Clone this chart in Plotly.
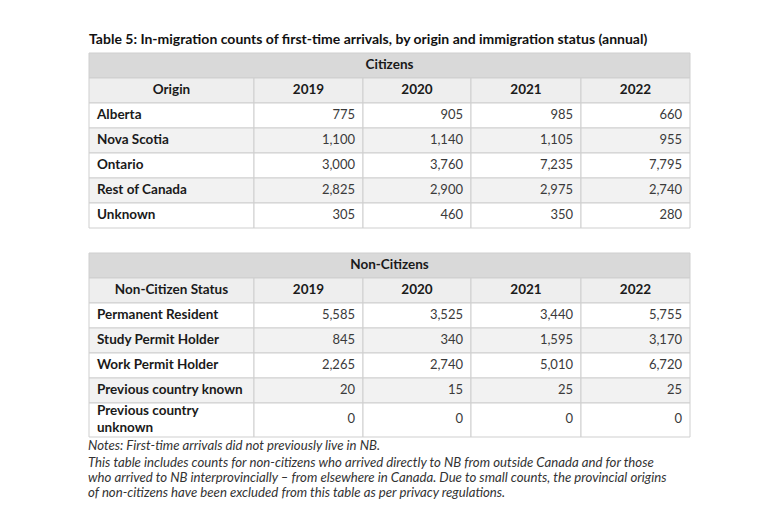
import plotly.graph_objects as go

title = "Table 5: In-migration counts of first-time arrivals, by origin and immigration status (annual)"
years = ["2019", "2020", "2021", "2022"]

citizen_origins = ["Alberta", "Nova Scotia", "Ontario", "Rest of Canada", "Unknown"]
cit_2019 = [775, 1100, 3000, 2825, 305]
cit_2020 = [905, 1140, 3760, 2900, 460]
cit_2021 = [985, 1105, 7235, 2975, 350]
cit_2022 = [660, 955, 7795, 2740, 280]

noncit_status = ["Permanent Resident", "Study Permit Holder", "Work Permit Holder",
                 "Previous country known", "Previous country<br>unknown"]
non_2019 = [5585, 845, 2265, 20, 0]
non_2020 = [3525, 340, 2740, 15, 0]
non_2021 = [3440, 1595, 5010, 25, 0]
non_2022 = [5755, 3170, 6720, 25, 0]

notes = [
    "Notes: First-time arrivals did not previously live in NB.",
    "This table includes counts for non-citizens who arrived directly to NB from outside Canada and for those",
    "who arrived to NB interprovincially – from elsewhere in Canada. Due to small counts, the provincial origins",
    "of non-citizens have been excluded from this table as per privacy regulations.",
]

# page offset (browser body margin) so that axis units equal screenshot pixels
OFF = 8
W, H = 780, 512
FONT = "Lato"
TXT = "#1a1a1a"
NUM = "#3a3a3a"
LINE = "#cfcfcf"
BAND = "#d9d9d9"
HEAD = "#eeeeee"
ALT = "#f2f2f2"

col_edges = [89, 254, 363, 471, 581, 690]
ROW_H = 25
PAD = 8

fig = go.Figure()
shapes = []


def rect(x0, x1, y0, y1, fill):
    shapes.append(dict(type="rect", xref="x", yref="y", x0=x0, x1=x1, y0=y0, y1=y1,
                       fillcolor=fill, line=dict(color=LINE, width=1), layer="below"))


def add_text(xs, ys, texts, pos, size, color):
    fig.add_trace(go.Scatter(x=xs, y=ys, text=texts, mode="text", textposition=pos,
                             textfont=dict(family=FONT, size=size, color=color),
                             hoverinfo="skip", showlegend=False))


def draw_table(band_label, first_label, labels, cols, top, row_heights):
    # spanning band
    rect(col_edges[0], col_edges[-1], top, top + ROW_H, BAND)
    add_text([(col_edges[0] + col_edges[-1]) / 2], [top + ROW_H / 2],
             [f"<b>{band_label}</b>"], "middle center", 13.5, TXT)
    # header row
    htop = top + ROW_H
    heads = [first_label] + years
    for j, h in enumerate(heads):
        rect(col_edges[j], col_edges[j + 1], htop, htop + ROW_H, HEAD)
    add_text([(col_edges[j] + col_edges[j + 1]) / 2 for j in range(len(heads))],
             [htop + ROW_H / 2] * len(heads),
             [f"<b>{h}</b>" for h in heads], "middle center", 13.5, TXT)
    # data rows
    y = htop + ROW_H
    centers = []
    for i, lab in enumerate(labels):
        rh = row_heights[i]
        fill = "white" if i % 2 == 0 else ALT
        for j in range(len(col_edges) - 1):
            rect(col_edges[j], col_edges[j + 1], y, y + rh, fill)
        centers.append(y + rh / 2)
        y += rh
    add_text([col_edges[0] + PAD] * len(labels), centers,
             [f"<b>{l}</b>" for l in labels], "middle right", 13.5, TXT)
    for j, col in enumerate(cols):
        add_text([col_edges[j + 2] - PAD] * len(col), centers,
                 [f"{v:,}" for v in col], "middle left", 13, NUM)


draw_table("Citizens", "Origin", citizen_origins,
           [cit_2019, cit_2020, cit_2021, cit_2022], 53, [ROW_H] * 5)
draw_table("Non-Citizens", "Non-Citizen Status", noncit_status,
           [non_2019, non_2020, non_2021, non_2022], 253, [ROW_H] * 4 + [34])

annotations = [dict(text=f"<b>{title}</b>", x=87, y=38, xref="x", yref="y",
                    showarrow=False, xanchor="left", yanchor="middle",
                    font=dict(family=FONT, size=14, color="#111111"))]
for line_txt, ypx in zip(notes, [445, 462, 477, 492]):
    annotations.append(dict(text=f"<i>{line_txt}</i>", x=86, y=ypx, xref="x", yref="y",
                            showarrow=False, xanchor="left", yanchor="middle",
                            font=dict(family=FONT, size=13.2, color="#333333")))

fig.update_layout(
    width=W - OFF, height=H - OFF,
    margin=dict(l=0, r=0, t=0, b=0),
    paper_bgcolor="white",
    plot_bgcolor="white",
    shapes=shapes,
    annotations=annotations,
    xaxis=dict(range=[OFF, W], visible=False, fixedrange=True),
    yaxis=dict(range=[H, OFF], visible=False, fixedrange=True),
)

fig.write_html("out.html")
